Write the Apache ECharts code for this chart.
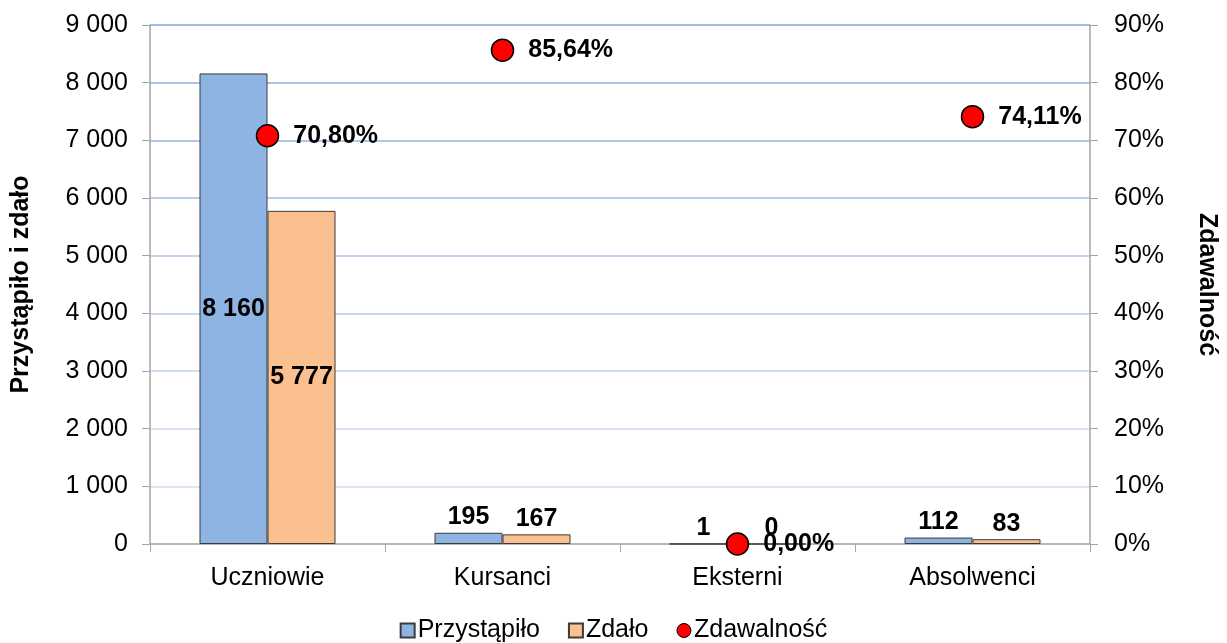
<!DOCTYPE html>
<html><head><meta charset="utf-8">
<script src="https://cdn.jsdelivr.net/npm/echarts@6/dist/echarts.min.js"></script>
<style>html,body{margin:0;padding:0;background:#fff}#c{width:1227px;height:643px}</style>
</head><body><div id="c"></div>
<script>
const categories = ['Uczniowie', 'Kursanci', 'Eksterni', 'Absolwenci'];
const przystapilo = [8160, 195, 1, 112];
const zdalo = [5777, 167, 0, 83];
const zdawalnosc = [70.80, 85.64, 0.00, 74.11];
const leftTicks = [0, 1000, 2000, 3000, 4000, 5000, 6000, 7000, 8000, 9000];
const rightTicks = [0, 10, 20, 30, 40, 50, 60, 70, 80, 90];

const F = "'Liberation Sans', Arial, sans-serif";
const fmtNum = v => String(v).replace(/\B(?=(\d{3})+(?!\d))/g, ' ');
const fmtPct = v => v.toFixed(2).replace('.', ',') + '%';

function barData(arr) {
  return arr.map(v => ({
    value: v,
    label: { position: v > 1000 ? 'inside' : 'top' }
  }));
}

// grid line shades from bottom (light) to top (stronger blue)
const gridShades = ['#e3eaf6', '#dde6f5', '#d6e1f3', '#cfdcf1', '#c8d7ef', '#c0d2ee', '#b8cdec', '#b0c7ea', '#a8c2e9', '#a0bde8'];

const chart = echarts.init(document.getElementById('c'));
chart.setOption({
  animation: false,
  textStyle: { fontFamily: F },
  grid: { left: 150, right: 133, top: 25, bottom: 99, containLabel: false },
  legend: {
    bottom: 0, padding: 0, left: 'center', itemGap: 28, itemWidth: 14, itemHeight: 14,
    textStyle: { fontFamily: F, fontSize: 25, color: '#000', padding: [0, 0, 0, -2] },
    data: [
      { name: 'Przystąpiło', icon: 'rect' },
      { name: 'Zdało', icon: 'rect' },
      { name: 'Zdawalność', icon: 'circle', itemStyle: { borderWidth: 1 } }
    ]
  },
  xAxis: {
    type: 'category', data: categories,
    axisLine: { lineStyle: { color: '#a6a6a6', width: 1.5 } },
    axisTick: { show: true, length: 8, lineStyle: { color: '#a6a6a6' } },
    axisLabel: { fontFamily: F, fontSize: 25, color: '#000', margin: 22 }
  },
  yAxis: [
    {
      type: 'value', min: 0, max: 9000, interval: 1000,
      name: 'Przystąpiło i zdało', nameLocation: 'middle', nameGap: 116,
      nameTextStyle: { fontFamily: F, fontSize: 25, fontWeight: 'bold', color: '#000' },
      axisLine: { show: true, lineStyle: { color: '#a6a6a6', width: 1.5 } },
      axisTick: { show: true, length: 8, lineStyle: { color: '#a6a6a6' } },
      axisLabel: { fontFamily: F, fontSize: 25, color: '#000', margin: 22,
        formatter: v => leftTicks.includes(v) ? fmtNum(v) : '' },
      splitLine: { show: true, lineStyle: { color: gridShades, width: 2 } }
    },
    {
      type: 'value', min: 0, max: 90, interval: 10, position: 'right',
      name: 'Zdawalność', nameLocation: 'middle', nameGap: 104, nameRotate: -90,
      nameTextStyle: { fontFamily: F, fontSize: 25, fontWeight: 'bold', color: '#000' },
      axisLine: { show: true, lineStyle: { color: '#a6a6a6', width: 1.5 } },
      axisTick: { show: true, length: 8, lineStyle: { color: '#a6a6a6' } },
      axisLabel: { fontFamily: F, fontSize: 25, color: '#000', margin: 24,
        formatter: v => rightTicks.includes(v) ? v + '%' : '' },
      splitLine: { show: false }
    }
  ],
  series: [
    {
      name: 'Przystąpiło', type: 'bar', data: barData(przystapilo),
      barWidth: 68, barGap: '0%',
      itemStyle: { color: '#8eb4e3', borderColor: '#3a3a3a', borderWidth: 1 },
      label: { show: true, fontFamily: F, fontSize: 25, fontWeight: 'bold', color: '#000',
        distance: 3, formatter: p => fmtNum(p.value) }
    },
    {
      name: 'Zdało', type: 'bar', data: barData(zdalo),
      barWidth: 68,
      itemStyle: { color: '#fac090', borderColor: '#3a3a3a', borderWidth: 1 },
      label: { show: true, fontFamily: F, fontSize: 25, fontWeight: 'bold', color: '#000',
        distance: 3, formatter: p => fmtNum(p.value) }
    },
    {
      name: 'Zdawalność', type: 'scatter', yAxisIndex: 1, data: zdawalnosc,
      symbol: 'circle', symbolSize: 22, z: 5,
      itemStyle: { color: '#ff0000', borderColor: '#000', borderWidth: 1.5, opacity: 1 },
      label: { show: true, position: 'right', distance: 14, fontFamily: F, fontSize: 25,
        fontWeight: 'bold', color: '#000', formatter: p => fmtPct(p.value) }
    }
  ]
});
</script></body></html>
